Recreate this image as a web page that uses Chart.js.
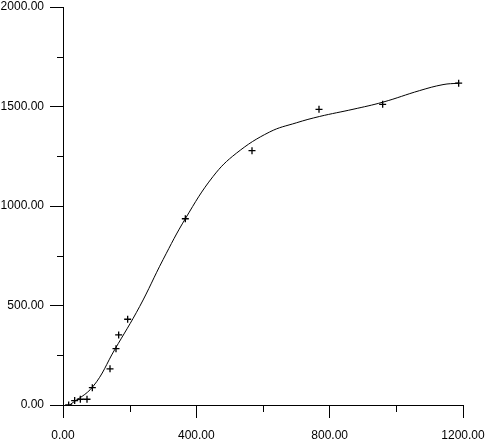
<!DOCTYPE html>
<html>
<head>
<meta charset="utf-8">
<script src="https://cdn.jsdelivr.net/npm/chart.js@4.4.1/dist/chart.umd.min.js"></script>
<style>
html,body{margin:0;padding:0;background:#fff;}
canvas{display:block;}
</style>
</head>
<body>
<canvas id="c" width="490" height="444"></canvas>
<script>
// Observed data points (+ markers)
const pointX = [17, 35, 52, 72, 88, 141, 159, 167, 194, 367, 567, 768, 959, 1187];
const pointY = [0, 22, 29, 29, 87, 182, 283, 352, 431, 936, 1278, 1486, 1511, 1617];

// Smooth fitted curve
const curveX = [20, 90, 155, 230, 300, 368, 450, 520, 620, 700, 770, 870, 960, 1070, 1140, 1185];
const curveY = [0, 93, 278, 495, 730, 939, 1148, 1265, 1372, 1418, 1450, 1486, 1522, 1580, 1610, 1617];

// Axis ticks
const xMajor = [0, 400, 800, 1200];
const xMinor = [200, 600, 1000];
const yMajor = [0, 500, 1000, 1500, 2000];
const yMinor = [250, 750, 1250, 1750];

const pts = pointX.map((x, i) => ({x: x, y: pointY[i]}));
const curve = curveX.map((x, i) => ({x: x, y: curveY[i]}));

const minorTicks = {
  id: 'minorTicks',
  afterDraw(chart) {
    const ctx = chart.ctx;
    const xs = chart.scales.x, ys = chart.scales.y;
    ctx.save();
    ctx.strokeStyle = '#000';
    ctx.lineWidth = 1;
    ctx.beginPath();
    xMinor.forEach(v => {
      const px = Math.round(xs.getPixelForValue(v)) + 0.5;
      ctx.moveTo(px, ys.bottom);
      ctx.lineTo(px, ys.bottom + 7);
    });
    yMinor.forEach(v => {
      const py = Math.round(ys.getPixelForValue(v)) + 0.5;
      ctx.moveTo(xs.left, py);
      ctx.lineTo(xs.left - 6, py);
    });
    ctx.stroke();
    ctx.restore();
  }
};

const font = {family: 'Liberation Sans, Arial, sans-serif', size: 12};

new Chart(document.getElementById('c'), {
  type: 'scatter',
  data: {
    datasets: [
      {
        data: curve,
        showLine: true,
        borderColor: '#000',
        borderWidth: 1,
        pointRadius: 0,
        tension: 0.4,
        fill: false
      },
      {
        data: pts,
        pointStyle: 'cross',
        pointRadius: 3.5,
        pointBorderWidth: 1.3,
        pointBorderColor: '#000',
        pointBackgroundColor: '#000',
        showLine: false
      }
    ]
  },
  plugins: [minorTicks],
  options: {
    responsive: false,
    animation: false,
    layout: {padding: {top: 7, right: 27, left: 0, bottom: 0}},
    plugins: {legend: {display: false}, tooltip: {enabled: false}},
    scales: {
      x: {
        type: 'linear',
        min: 0, max: 1200,
        afterBuildTicks: s => { s.ticks = xMajor.map(v => ({value: v})); },
        afterFit: s => { s.height = 39; s.paddingLeft = 0; s.paddingRight = 0; },
        border: {display: true, color: '#000', width: 1},
        grid: {display: true, drawOnChartArea: false, drawTicks: true, tickLength: 13, color: '#000', lineWidth: 1},
        ticks: {color: '#000', font: font, padding: 10, maxRotation: 0, callback: v => Number(v).toFixed(2)}
      },
      y: {
        type: 'linear',
        min: 0, max: 2000,
        afterBuildTicks: s => { s.ticks = yMajor.map(v => ({value: v})); },
        afterFit: s => { s.width = 63; s.paddingTop = 0; s.paddingBottom = 0; },
        border: {display: true, color: '#000', width: 1},
        grid: {display: true, drawOnChartArea: false, drawTicks: true, tickLength: 13, color: '#000', lineWidth: 1},
        ticks: {color: '#000', font: font, padding: 6, callback: v => Number(v).toFixed(2)}
      }
    }
  }
});
</script>
</body>
</html>
